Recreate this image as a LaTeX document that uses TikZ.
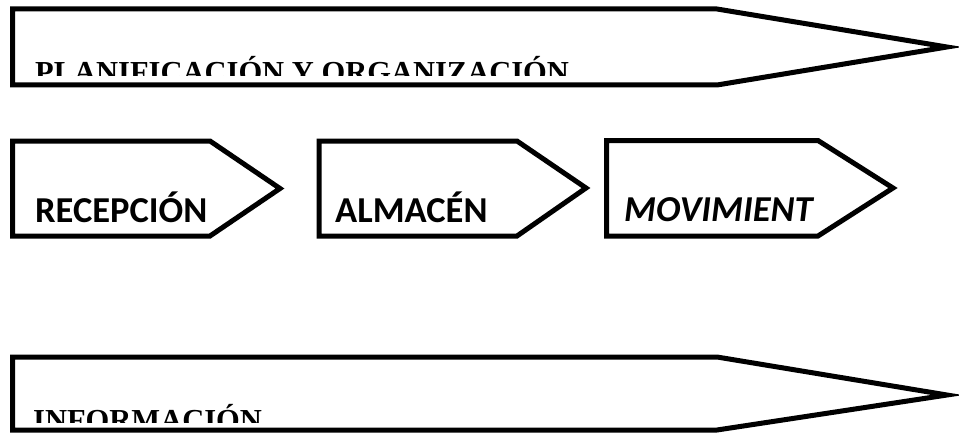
\documentclass[tikz,border=0pt]{standalone}
\usepackage{fontspec}
\setmainfont{Liberation Serif}
\newfontfamily\calfont{Carlito}
\begin{document}
\begin{tikzpicture}[x=1pt,y=-1pt,
  shapeline/.style={draw=black,line width=5pt,line join=miter},
  bigtext/.style={font=\bfseries\fontsize{30.5}{36}\selectfont,anchor=base west,inner sep=0pt},
  steptext/.style={font=\calfont\bfseries\fontsize{36.5}{44}\selectfont,anchor=base west,inner sep=0pt},
  stepitext/.style={font=\calfont\bfseries\itshape\fontsize{36.5}{44}\selectfont,anchor=base west,inner sep=0pt}]
\useasboundingbox[fill=white] (0,0) rectangle (959,436);
% top arrow
\begin{scope}
  \clip (15,12) rectangle (940,76);
  \node[bigtext] (plan) at (35,83) {PLANIFICACIÓN Y ORGANIZACIÓN};
\end{scope}
\draw[shapeline] (12.5,9) -- (717,9) -- (947,47) -- (717,85) -- (12.5,85) -- cycle;
% step pentagons
\draw[shapeline] (12.5,141) -- (210,141) -- (280,188.5) -- (210,236) -- (12.5,236) -- cycle;
\node[steptext] (rec) at (35,222) {RECEPCIÓN};
\draw[shapeline] (319,141) -- (517,141) -- (586,188) -- (517,236) -- (319,236) -- cycle;
\node[steptext] (alm) at (335,222) {ALMACÉN};
\draw[shapeline] (606.5,140.5) -- (818,140.5) -- (893,188) -- (818,236) -- (606.5,236) -- cycle;
\node[stepitext] (mov) at (624,221) {MOVIMIENT};
% bottom arrow
\begin{scope}
  \clip (15,360) rectangle (940,422);
  \node[bigtext] (info) at (33,430) {INFORMACIÓN};
\end{scope}
\draw[shapeline] (12.5,357) -- (717,357) -- (947,395) -- (717,430) -- (12.5,430) -- cycle;
\end{tikzpicture}
\end{document}
